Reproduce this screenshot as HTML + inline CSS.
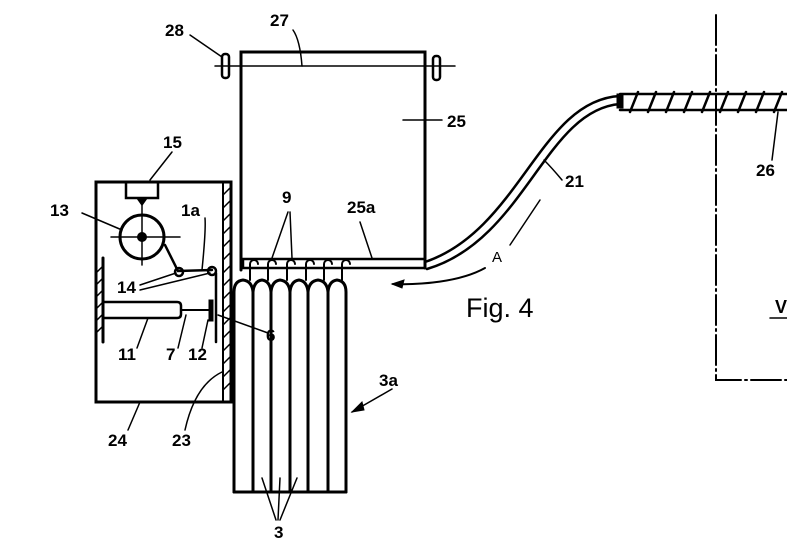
<!DOCTYPE html>
<html><head><meta charset="utf-8"><style>
html,body{margin:0;padding:0;background:#fff}
svg{display:block}
text{font-family:"Liberation Sans",sans-serif;font-weight:bold;font-size:17px;fill:#000}
</style></head><body>
<svg width="787" height="543" viewBox="0 0 787 543" xmlns="http://www.w3.org/2000/svg">
<g stroke="#000" fill="none" stroke-width="3" stroke-linecap="round">
<!-- box 25 -->
<path d="M241 270 V52 H425 V268"/>
<line x1="215" y1="66" x2="455" y2="66" stroke-width="1.5"/>
<rect x="222" y="54" width="7" height="24" rx="3" stroke-width="2.5"/>
<rect x="433" y="56" width="7" height="24" rx="3" stroke-width="2.5"/>
<!-- 25a bar -->
<rect x="243" y="259" width="182" height="9" stroke-width="2.5"/>
<!-- bottles -->
<path d="M234 492 V292 Q234 281 243 280 Q252 281 253 292 V492"/>
<path d="M253 292 Q254 281 262 280 Q270 281 271 292 V492"/>
<path d="M271 292 Q272 281 280 280 Q289 281 290 292 V492"/>
<path d="M290 292 Q291 281 299 280 Q307 281 308 292 V492"/>
<path d="M308 292 Q309 281 318 280 Q327 281 328 292 V492"/>
<path d="M328 292 Q329 281 337 280 Q346 281 346 292 V492"/>
<line x1="234" y1="492" x2="346" y2="492"/>
<!-- hooks 9 -->
<g stroke-width="2">
<path d="M250 280 V264 a4 4 0 0 1 8 0"/><path d="M268 280 V264 a4 4 0 0 1 8 0"/>
<path d="M287 280 V264 a4 4 0 0 1 8 0"/><path d="M306 280 V264 a4 4 0 0 1 8 0"/>
<path d="M324 280 V264 a4 4 0 0 1 8 0"/><path d="M342 280 V264 a4 4 0 0 1 8 0"/>
</g>
<!-- left box 24 -->
<path d="M96 182 H231 V402 H96 Z"/>
<line x1="223" y1="182" x2="223" y2="402" stroke-width="2"/>
<g stroke-width="1.5">
<line x1="223" y1="195" x2="231" y2="187"/><line x1="223" y1="208" x2="231" y2="200"/>
<line x1="223" y1="221" x2="231" y2="213"/><line x1="223" y1="234" x2="231" y2="226"/>
<line x1="223" y1="247" x2="231" y2="239"/><line x1="223" y1="260" x2="231" y2="252"/>
<line x1="223" y1="273" x2="231" y2="265"/><line x1="223" y1="286" x2="231" y2="278"/>
<line x1="223" y1="299" x2="231" y2="291"/><line x1="223" y1="312" x2="231" y2="304"/>
<line x1="223" y1="325" x2="231" y2="317"/><line x1="223" y1="338" x2="231" y2="330"/>
<line x1="223" y1="351" x2="231" y2="343"/><line x1="223" y1="364" x2="231" y2="356"/>
<line x1="223" y1="377" x2="231" y2="369"/><line x1="223" y1="390" x2="231" y2="382"/>
</g>
<!-- 15 -->
<path d="M126 182 V198 H158 V182" stroke-width="2.5"/>
<path d="M137 198 L142 205 L147 198" fill="#000" stroke-width="1.5"/>
<line x1="142" y1="198" x2="142" y2="265" stroke-width="1.5"/>
<line x1="111" y1="237" x2="180" y2="237" stroke-width="1.5"/>
<circle cx="142" cy="237" r="22"/>
<circle cx="142" cy="237" r="3.5" fill="#000"/>
<!-- links 14 -->
<path d="M165 245 L178 271 L212 270" stroke-width="2.5"/>
<circle cx="179" cy="272" r="4" stroke-width="2.5"/>
<circle cx="212" cy="271" r="4" stroke-width="2.5"/>
<line x1="216" y1="273" x2="216" y2="342" stroke-width="2.5"/>
<!-- hatched wall -->
<line x1="103" y1="258" x2="103" y2="342"/>
<g stroke-width="1.5">
<line x1="103" y1="266" x2="96" y2="273"/><line x1="103" y1="278" x2="96" y2="285"/>
<line x1="103" y1="290" x2="96" y2="297"/><line x1="103" y1="302" x2="96" y2="309"/>
<line x1="103" y1="314" x2="96" y2="321"/><line x1="103" y1="326" x2="96" y2="333"/>
</g>
<!-- cylinder 11 -->
<path d="M103 302 H177 Q181 302 181 306 V314 Q181 318 177 318 H103" stroke-width="2.5"/>
<line x1="181" y1="310" x2="210" y2="310" stroke-width="2"/>
<rect x="209" y="300" width="4" height="21" fill="#000" stroke-width="1"/>
<!-- hose 21 -->
<path d="M425 262 C520 230 540 100 620 96" stroke-width="2.5"/>
<path d="M427 269 C525 240 545 110 620 104" stroke-width="2.5"/>
<rect x="617" y="94" width="6" height="14" fill="#000" stroke-width="1"/>
<!-- coil 26 -->
<line x1="620" y1="94" x2="787" y2="94" stroke-width="2.5"/>
<line x1="620" y1="110" x2="787" y2="110" stroke-width="2.5"/>
<g stroke-width="2.5">
<line x1="630" y1="112" x2="638" y2="92"/><line x1="648" y1="112" x2="656" y2="92"/>
<line x1="666" y1="112" x2="674" y2="92"/><line x1="684" y1="112" x2="692" y2="92"/>
<line x1="702" y1="112" x2="710" y2="92"/><line x1="720" y1="112" x2="728" y2="92"/>
<line x1="738" y1="112" x2="746" y2="92"/><line x1="756" y1="112" x2="764" y2="92"/>
<line x1="774" y1="112" x2="782" y2="92"/>
</g>
<!-- dash-dot frame -->
<path d="M716 15 V380 H787" stroke-width="2" stroke-dasharray="30 4 2 4"/>
<!-- arrow A -->
<path d="M393 284 C420 285 460 282 485 268" stroke-width="2"/>
<path d="M392 284 L404 280 L402 288 Z" fill="#000" stroke-width="1"/>
<line x1="510" y1="245" x2="540" y2="200" stroke-width="1.5"/>
<!-- leader lines -->
<g stroke-width="1.5">
<path d="M190 35 L222 57"/><path d="M293 30 Q300 40 302 66"/>
<path d="M403 120 H442"/><path d="M172 152 L150 180"/>
<path d="M82 213 L122 230"/><path d="M205 218 Q206 230 202 270"/>
<path d="M140 285 L176 273 M140 290 L210 273"/>
<path d="M288 212 L272 258 M290 212 L292 258"/>
<path d="M360 222 L372 258"/>
<path d="M137 348 L148 318"/><path d="M178 348 L186 315"/><path d="M202 348 L208 320"/>
<path d="M268 333 L218 315"/>
<path d="M128 430 L140 402"/><path d="M185 430 Q195 385 222 372"/>
<path d="M392 389 L352 412"/><path d="M276 520 L262 478 M278 520 L280 478 M280 520 L297 478"/>
<path d="M562 180 Q552 168 544 160"/><path d="M772 160 L778 112"/>
<path d="M770 318 H787"/>
</g>
<path d="M352 412 L362 402 L364 410 Z" fill="#000" stroke-width="1"/>
</g>
<g>
<text x="165" y="36">28</text>
<text x="270" y="26">27</text>
<text x="447" y="127">25</text>
<text x="163" y="148">15</text>
<text x="50" y="216">13</text>
<text x="181" y="216">1a</text>
<text x="282" y="203">9</text>
<text x="347" y="213">25a</text>
<text x="117" y="293">14</text>
<text x="118" y="360">11</text>
<text x="166" y="360">7</text>
<text x="188" y="360">12</text>
<text x="266" y="341">6</text>
<text x="108" y="446">24</text>
<text x="172" y="446">23</text>
<text x="379" y="386">3a</text>
<text x="274" y="538">3</text>
<text x="565" y="187">21</text>
<text x="756" y="176">26</text>
<text x="492" y="262" style="font-weight:normal;font-size:15px">A</text>
<text x="466" y="317" style="font-weight:normal;font-size:27px">Fig. 4</text>
<text x="775" y="313" style="font-size:18px">V</text>
</g>
</svg>
</body></html>
